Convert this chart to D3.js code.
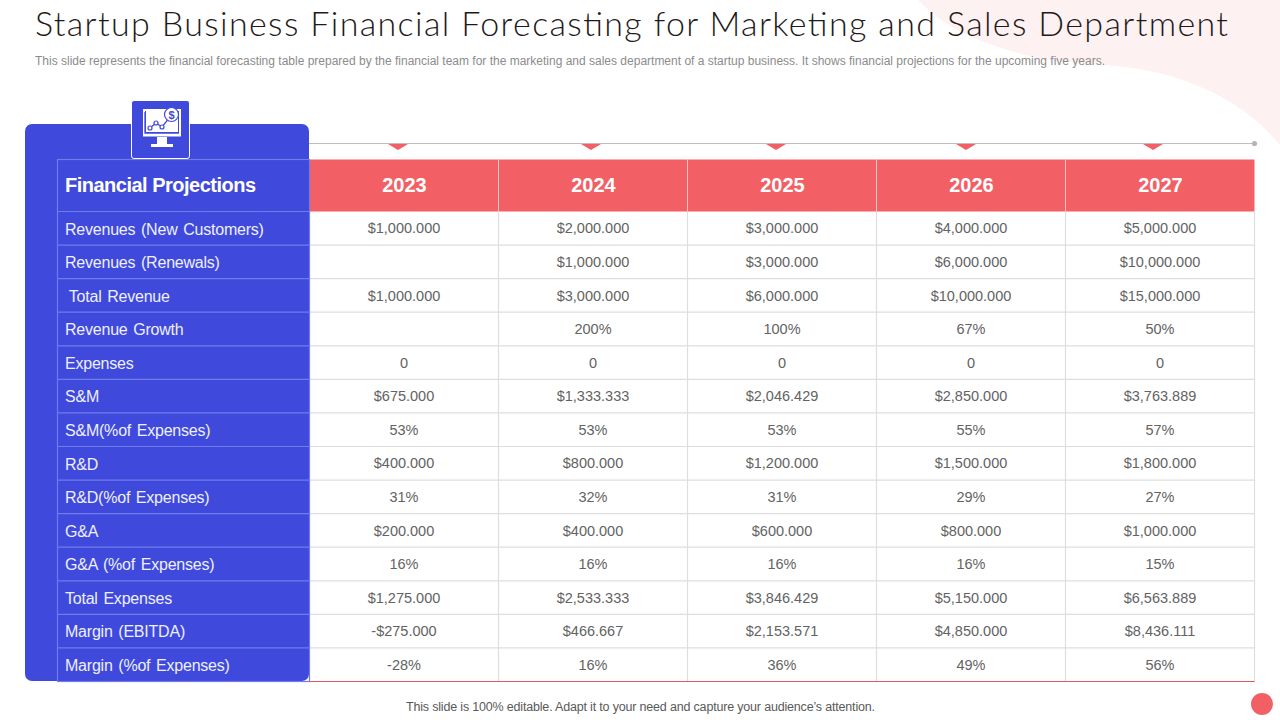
<!DOCTYPE html>
<html><head><meta charset="utf-8">
<script src="https://cdn.jsdelivr.net/npm/d3@7"></script>
<style>
html,body{margin:0;padding:0;background:#fff;overflow:hidden}
svg{display:block}
text{font-family:"Liberation Sans",Arial,sans-serif}
</style></head><body>
<svg id="c" width="1280" height="720"></svg>
<script>
const titleText = "Startup Business Financial Forecasting for Marketing and Sales Department";
const subtitleText = "This slide represents the financial forecasting table prepared by the financial team for the marketing and sales department of a startup business. It shows financial projections for the upcoming five years.";
const footerText = "This slide is 100% editable. Adapt it to your need and capture your audience\u2019s attention.";
const headerLabel = "Financial Projections";
const years = ["2023","2024","2025","2026","2027"];
const rowLabels = ["Revenues (New Customers)","Revenues (Renewals)","\u2005Total Revenue","Revenue Growth","Expenses","S&M","S&M(%of Expenses)","R&D","R&D(%of Expenses)","G&A","G&A (%of Expenses)","Total Expenses","Margin (EBITDA)","Margin (%of Expenses)"];
const values2023 = ["$1,000.000","","$1,000.000","","0","$675.000","53%","$400.000","31%","$200.000","16%","$1,275.000","-$275.000","-28%"];
const values2024 = ["$2,000.000","$1,000.000","$3,000.000","200%","0","$1,333.333","53%","$800.000","32%","$400.000","16%","$2,533.333","$466.667","16%"];
const values2025 = ["$3,000.000","$3,000.000","$6,000.000","100%","0","$2,046.429","53%","$1,200.000","31%","$600.000","16%","$3,846.429","$2,153.571","36%"];
const values2026 = ["$4,000.000","$6,000.000","$10,000.000","67%","0","$2,850.000","55%","$1,500.000","29%","$800.000","16%","$5,150.000","$4,850.000","49%"];
const values2027 = ["$5,000.000","$10,000.000","$15,000.000","50%","0","$3,763.889","57%","$1,800.000","27%","$1,000.000","15%","$6,563.889","$8,436.111","56%"];
const columns = [values2023,values2024,values2025,values2026,values2027];

const BLUE="#3f49dc", RED="#f26065", LINE="#dedede", TXT="#636363";
const svg = d3.select("#c");
const x = d3.scaleBand().domain(years).range([309.5,1254.5]);
const y = d3.scaleBand().domain(rowLabels).range([211.5,681.5]);
const headTop=159.5, headBot=211.5, labelL=57.5, labelR=309.5;

// background swoosh
svg.append("path").attr("fill","#fdf1f1")
  .attr("d","M918,0 C945,28 975,42 1033,57 C1070,65 1105,62 1150,71 C1205,83 1250,108 1280,145 L1280,0 Z");

// title block
svg.append("text").attr("id","t").attr("x",35).attr("y",36).attr("font-size",34)
  .attr("fill","#1f1a1a").style("font-family","Lato").style("font-weight",300)
  .attr("textLength",1193).attr("lengthAdjust","spacing").text(titleText);
svg.append("text").attr("x",35).attr("y",65).attr("font-size",12).attr("fill","#8c8c8c")
  .attr("textLength",1070).attr("lengthAdjust","spacing").text(subtitleText);

// blue panel
svg.append("rect").attr("x",25).attr("y",124).attr("width",284).attr("height",557).attr("rx",7).attr("fill",BLUE);

// timeline
svg.append("line").attr("x1",309).attr("x2",1254).attr("y1",143.5).attr("y2",143.5).attr("stroke","#bdbdbd").attr("stroke-width",1.2);
svg.append("circle").attr("cx",1254.5).attr("cy",143.5).attr("r",2.6).attr("fill","#b5b5b5");
const markerOffset = [-6,-2,-6,-5,-7];
svg.append("g").selectAll("path").data(years).join("path").attr("fill",RED)
  .attr("d",(d,i)=>{const c=x(d)+x.bandwidth()/2+markerOffset[i];return `M${c-10},144 L${c+10},144 L${c},150 Z`;});

// header
svg.append("g").selectAll("rect").data(years).join("rect")
  .attr("x",d=>x(d)).attr("y",headTop).attr("width",x.bandwidth()).attr("height",headBot-headTop).attr("fill",RED);
svg.append("g").selectAll("text").data(years).join("text")
  .attr("x",d=>x(d)+x.bandwidth()/2+0.5).attr("y",192).attr("text-anchor","middle")
  .attr("font-size",20).attr("font-weight",700).attr("fill","#fff").text(d=>d);
svg.append("text").attr("x",65).attr("y",192).attr("font-size",20).attr("font-weight",700).attr("fill","#fff")
  .attr("textLength",191).attr("lengthAdjust","spacing").text(headerLabel);

// grid
const g = svg.append("g");
g.selectAll("line.h").data(rowLabels).join("line").attr("class","h")
  .attr("x1",labelR).attr("x2",1254.5).attr("y1",d=>y(d)+y.bandwidth()).attr("y2",d=>y(d)+y.bandwidth())
  .attr("stroke",LINE).attr("stroke-width",1.2);
g.selectAll("line.v").data(years).join("line").attr("class","v")
  .attr("x1",d=>x(d)+x.bandwidth()).attr("x2",d=>x(d)+x.bandwidth()).attr("y1",headBot).attr("y2",681.5)
  .attr("stroke",LINE).attr("stroke-width",1.2);
svg.append("line").attr("x1",labelR).attr("x2",1254.5).attr("y1",681.5).attr("y2",681.5).attr("stroke","#e2575c").attr("stroke-width",1.2);
svg.append("g").selectAll("line").data(years.slice(0,-1)).join("line")
  .attr("x1",d=>x(d)+x.bandwidth()).attr("x2",d=>x(d)+x.bandwidth()).attr("y1",headTop).attr("y2",headBot)
  .attr("stroke","#f9c5c7").attr("stroke-width",1);

// label column grid
const lg = svg.append("g").attr("stroke","#717ceb").attr("stroke-width",1.2).attr("fill","none");
lg.append("rect").attr("x",labelL).attr("y",headTop).attr("width",labelR-labelL).attr("height",681.5-headTop);
lg.selectAll("line").data(rowLabels).join("line")
  .attr("x1",labelL).attr("x2",labelR).attr("y1",d=>y(d)).attr("y2",d=>y(d));

// row labels
svg.append("g").selectAll("text").data(rowLabels).join("text")
  .attr("x",65).attr("y",d=>y(d)+y.bandwidth()/2+6.3).attr("font-size",16).attr("fill","#eef0fc")
  .attr("word-spacing",1.5).attr("letter-spacing",-0.22).text(d=>d);

// cell values
years.forEach((yr,ci)=>{
  svg.append("g").selectAll("text").data(columns[ci].map((v,i)=>({v,r:rowLabels[i]}))).join("text")
    .attr("x",x(yr)+x.bandwidth()/2).attr("y",d=>y(d.r)+y.bandwidth()/2+5.2)
    .attr("text-anchor","middle").attr("font-size",14.5).attr("fill",TXT).text(d=>d.v);
});

// icon tile
svg.append("rect").attr("x",131.5).attr("y",100.5).attr("width",58).attr("height",58).attr("rx",2.5).attr("fill",BLUE).attr("stroke","#fff").attr("stroke-width",1);
const ic = svg.append("g").attr("fill","#fff");
ic.append("rect").attr("x",143).attr("y",109).attr("width",38).attr("height",28);
ic.append("rect").attr("x",145).attr("y",111).attr("width",34).attr("height",22).attr("fill",BLUE);
ic.append("rect").attr("x",146).attr("y",110).attr("width",32).attr("height",22);
ic.append("rect").attr("x",143).attr("y",136.5).attr("width",38).attr("height",1).attr("fill",BLUE);
ic.append("rect").attr("x",157).attr("y",137).attr("width",10).attr("height",7);
ic.append("rect").attr("x",151).attr("y",144).attr("width",22).attr("height",3);
ic.append("path").attr("fill","none").attr("stroke",BLUE).attr("stroke-width",1.3).attr("d","M145,112 V133 H179");
ic.append("path").attr("fill","none").attr("stroke",BLUE).attr("stroke-width",1.3).attr("d","M150,128 L156,123 L162,127 L170,117");
[[150,128],[156,123],[162,127]].forEach(p=>ic.append("circle").attr("cx",p[0]).attr("cy",p[1]).attr("r",2).attr("fill","#fff").attr("stroke",BLUE).attr("stroke-width",1.2));
ic.append("circle").attr("cx",171.5).attr("cy",114.5).attr("r",7).attr("fill","#fff").attr("stroke",BLUE).attr("stroke-width",1.2);
ic.append("text").attr("x",171.5).attr("y",118.5).attr("text-anchor","middle").attr("font-size",11).attr("font-weight",700).attr("fill",BLUE).text("$");

// footer
svg.append("text").attr("x",406).attr("y",711).attr("font-size",12.5).attr("fill","#595959")
  .attr("textLength",469).attr("lengthAdjust","spacing").text(footerText);
svg.append("circle").attr("cx",1262).attr("cy",704).attr("r",11).attr("fill",RED);
</script>
</body></html>
